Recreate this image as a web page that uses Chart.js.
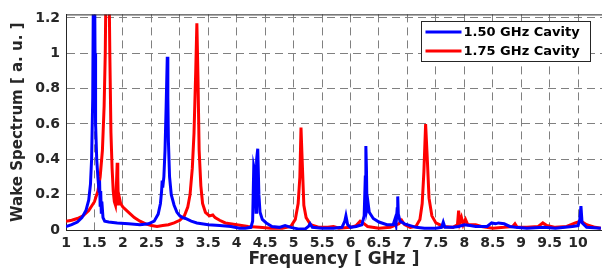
<!DOCTYPE html>
<html>
<head>
<meta charset="utf-8">
<script src="https://cdn.jsdelivr.net/npm/chart.js@4"></script>
<style>
  html, body { margin: 0; padding: 0; background: #fff; }
  #wrap { width: 602px; height: 270px; }
</style>
</head>
<body>
<div id="wrap"><canvas id="chartWake" width="602" height="270"></canvas></div>
<script>
"use strict";

// ---------------- data ----------------
const seriesNames = ['1.50 GHz Cavity', '1.75 GHz Cavity'];
const seriesColors = ['#0000ff', '#ff0000'];

const blueFreq = [1.00, 1.10, 1.20, 1.28, 1.35, 1.40, 1.43, 1.45, 1.47, 1.48, 1.49, 1.50, 1.51, 1.52, 1.54, 1.56, 1.58, 1.59, 1.60, 1.61, 1.62, 1.63, 1.65, 1.68, 1.75, 1.90, 2.10, 2.30, 2.45, 2.55, 2.62, 2.66, 2.68, 2.69, 2.70, 2.72, 2.74, 2.76, 2.78, 2.79, 2.80, 2.82, 2.85, 2.90, 2.95, 3.00, 3.05, 3.10, 3.20, 3.30, 3.50, 3.70, 3.90, 4.05, 4.15, 4.25, 4.28, 4.30, 4.32, 4.34, 4.35, 4.37, 4.39, 4.41, 4.45, 4.52, 4.62, 4.75, 4.85, 4.95, 5.10, 5.20, 5.26, 5.29, 5.33, 5.50, 5.70, 5.85, 5.90, 5.92, 5.95, 6.00, 6.10, 6.20, 6.24, 6.26, 6.27, 6.28, 6.29, 6.31, 6.33, 6.40, 6.50, 6.64, 6.75, 6.78, 6.80, 6.82, 6.83, 6.84, 6.87, 6.95, 7.05, 7.15, 7.30, 7.50, 7.60, 7.63, 7.66, 7.80, 7.90, 8.00, 8.10, 8.20, 8.40, 8.48, 8.55, 8.60, 8.70, 8.80, 8.90, 9.10, 9.40, 9.60, 9.90, 10.00, 10.03, 10.05, 10.07, 10.15, 10.40];
const blueVal = [0.02, 0.03, 0.045, 0.07, 0.11, 0.17, 0.26, 0.40, 0.75, 1.3, 1.8, 1.6, 1.0, 0.6, 0.40, 0.30, 0.22, 0.28, 0.14, 0.22, 0.10, 0.16, 0.07, 0.05, 0.045, 0.04, 0.035, 0.03, 0.035, 0.05, 0.09, 0.15, 0.22, 0.28, 0.24, 0.30, 0.45, 0.70, 0.98, 0.75, 0.50, 0.30, 0.20, 0.14, 0.10, 0.08, 0.07, 0.065, 0.05, 0.04, 0.03, 0.025, 0.02, 0.01, 0.01, 0.015, 0.05, 0.36, 0.33, 0.10, 0.40, 0.46, 0.20, 0.10, 0.06, 0.04, 0.02, 0.015, 0.025, 0.015, 0.005, 0.005, 0.02, 0.035, 0.015, 0.01, 0.01, 0.015, 0.05, 0.08, 0.03, 0.015, 0.02, 0.03, 0.08, 0.30, 0.475, 0.35, 0.12, 0.15, 0.10, 0.065, 0.045, 0.03, 0.03, 0.06, 0.03, 0.12, 0.19, 0.09, 0.05, 0.035, 0.025, 0.015, 0.01, 0.01, 0.015, 0.045, 0.015, 0.015, 0.02, 0.03, 0.025, 0.02, 0.02, 0.04, 0.035, 0.04, 0.035, 0.02, 0.015, 0.01, 0.015, 0.01, 0.02, 0.025, 0.06, 0.135, 0.04, 0.015, 0.01];

const redFreq = [1.00, 1.10, 1.20, 1.30, 1.40, 1.50, 1.56, 1.60, 1.64, 1.67, 1.69, 1.71, 1.73, 1.75, 1.77, 1.79, 1.81, 1.83, 1.85, 1.87, 1.88, 1.90, 1.91, 1.92, 1.94, 1.96, 2.00, 2.10, 2.20, 2.30, 2.40, 2.50, 2.60, 2.70, 2.80, 2.90, 3.00, 3.08, 3.14, 3.18, 3.22, 3.25, 3.28, 3.30, 3.32, 3.34, 3.37, 3.40, 3.45, 3.52, 3.58, 3.62, 3.70, 3.80, 4.00, 4.20, 4.40, 4.60, 4.80, 4.95, 5.03, 5.08, 5.11, 5.13, 5.15, 5.18, 5.22, 5.30, 5.45, 5.60, 5.70, 5.80, 6.00, 6.10, 6.17, 6.22, 6.30, 6.50, 6.70, 6.85, 6.90, 6.95, 7.05, 7.15, 7.22, 7.26, 7.29, 7.32, 7.35, 7.38, 7.43, 7.50, 7.63, 7.80, 7.88, 7.90, 7.92, 7.95, 7.98, 8.02, 8.06, 8.20, 8.30, 8.50, 8.70, 8.85, 8.89, 8.93, 9.10, 9.30, 9.38, 9.45, 9.60, 9.80, 9.95, 10.05, 10.15, 10.30, 10.40];
const redVal = [0.05, 0.055, 0.065, 0.08, 0.11, 0.16, 0.22, 0.30, 0.45, 0.70, 1.0, 1.6, 2.0, 1.6, 1.0, 0.55, 0.35, 0.22, 0.16, 0.14, 0.20, 0.38, 0.30, 0.14, 0.18, 0.15, 0.13, 0.10, 0.07, 0.05, 0.035, 0.025, 0.02, 0.025, 0.03, 0.04, 0.055, 0.08, 0.13, 0.20, 0.35, 0.55, 0.90, 1.17, 0.85, 0.45, 0.25, 0.15, 0.10, 0.08, 0.085, 0.07, 0.055, 0.04, 0.03, 0.02, 0.015, 0.01, 0.01, 0.02, 0.06, 0.15, 0.30, 0.58, 0.40, 0.14, 0.07, 0.03, 0.015, 0.015, 0.02, 0.01, 0.015, 0.025, 0.05, 0.04, 0.02, 0.01, 0.015, 0.035, 0.055, 0.03, 0.015, 0.02, 0.06, 0.15, 0.33, 0.60, 0.40, 0.18, 0.08, 0.04, 0.02, 0.015, 0.03, 0.11, 0.04, 0.07, 0.03, 0.06, 0.03, 0.03, 0.02, 0.01, 0.015, 0.02, 0.035, 0.015, 0.015, 0.02, 0.04, 0.025, 0.015, 0.02, 0.04, 0.05, 0.03, 0.015, 0.01];

const xTicks = [1, 1.5, 2, 2.5, 3, 3.5, 4, 4.5, 5, 5.5, 6, 6.5, 7, 7.5, 8, 8.5, 9, 9.5, 10];
const yTicks = [0, 0.2, 0.4, 0.6, 0.8, 1, 1.2];

const toPoints = (xs, ys) => xs.map((x, i) => ({ x: x, y: ys[i] }));

const fontFam = 'DejaVu Sans, Verdana, sans-serif';
const tickFont = { family: fontFam, size: 14, weight: 'bold' };

//--------------------------------box + legend plugin---------------------------------
const frameLegend = {
    id: 'frameLegend',
    afterDatasetsDraw(chart) {
        const ctx = chart.ctx;
        const a = chart.chartArea;
        ctx.save();
        ctx.setLineDash([]);
        ctx.strokeStyle = '#262626';
        ctx.lineWidth = 1;
        ctx.beginPath();
        ctx.moveTo(a.left, a.top + 0.5);
        ctx.lineTo(a.right, a.top + 0.5);
        ctx.stroke();

        // legend box, top right
        const bx = 421.5, by = 21.5, bw = 169, bh = 40;
        ctx.fillStyle = '#fff';
        ctx.fillRect(bx, by, bw, bh);
        ctx.strokeStyle = '#262626';
        ctx.strokeRect(bx, by, bw, bh);
        ctx.font = 'bold 13px ' + fontFam;
        ctx.textBaseline = 'middle';
        seriesNames.forEach((name, i) => {
            const yy = by + 10.5 + i * 19;
            ctx.strokeStyle = seriesColors[i];
            ctx.lineWidth = 3;
            ctx.beginPath();
            ctx.moveTo(bx + 4, yy);
            ctx.lineTo(bx + 40, yy);
            ctx.stroke();
            ctx.fillStyle = '#000';
            ctx.fillText(name, bx + 42, yy + 1);
        });
        ctx.restore();
    }
};

//--------------------------------wake spectrum chart---------------------------------
const wake = document.getElementById('chartWake').getContext('2d');
var chartWake = new Chart(wake, {
    type: 'line',
    data: {
        datasets: [{
            label: seriesNames[0],
            data: toPoints(blueFreq, blueVal),
            borderColor: seriesColors[0],
            borderWidth: 3,
            pointRadius: 0,
            tension: 0
        }, {
            label: seriesNames[1],
            data: toPoints(redFreq, redVal),
            borderColor: seriesColors[1],
            borderWidth: 3,
            pointRadius: 0,
            tension: 0
        }]
    },
    options: {
        responsive: false,
        animation: false,
        layout: { padding: { top: 10, right: 0, left: 9, bottom: 0 } },
        plugins: { legend: false, tooltip: { enabled: false } },
        scales: {
            x: {
                type: 'linear',
                min: 1,
                max: 10.42,
                afterBuildTicks: s => { s.ticks = xTicks.map(v => ({ value: v })); },
                afterFit: s => { s.height = 40; },
                ticks: {
                    color: '#262626',
                    font: tickFont,
                    padding: 5,
                    maxRotation: 0,
                    autoSkip: false,
                    callback: v => String(v)
                },
                grid: { color: '#808080', lineWidth: 1, drawTicks: false, tickLength: 0 },
                border: { color: '#262626', dash: [8, 5], display: true },
                title: { display: true, text: 'Frequency [ GHz ]', color: '#262626', font: { family: fontFam, size: 17, weight: 'bold' }, padding: 0 }
            },
            y: {
                min: 0,
                max: 1.22,
                afterBuildTicks: s => { s.ticks = yTicks.map(v => ({ value: v })); },
                afterFit: s => { s.width = 57; },
                ticks: {
                    color: '#262626',
                    font: tickFont,
                    padding: 6,
                    callback: v => String(v)
                },
                grid: { color: '#808080', lineWidth: 1, drawTicks: false, tickLength: 0 },
                border: { color: '#262626', dash: [8, 5], display: true },
                title: { display: true, text: 'Wake Spectrum [ a. u. ]', color: '#262626', font: { family: fontFam, size: 15, weight: 'bold' }, padding: 0 }
            }
        }
    },
    plugins: [frameLegend]
});
</script>
</body>
</html>
